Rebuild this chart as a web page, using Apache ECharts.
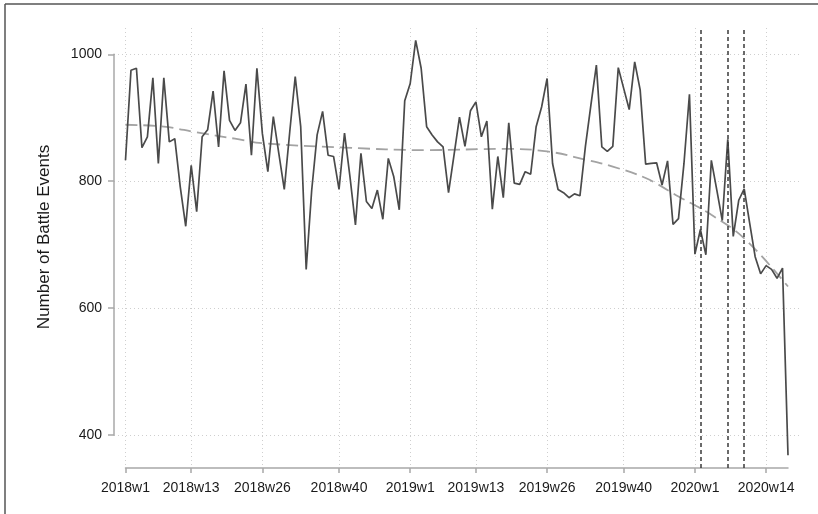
<!DOCTYPE html>
<html>
<head>
    <meta charset="UTF-8">
    <script type="text/javascript" src="https://cdn.jsdelivr.net/npm/echarts@6/dist/echarts.min.js"></script>
    <style type="text/css">
        *{
            margin: 0;
            padding: 0;
        }
        body{
            background: #fff;
        }
        #main{
            width: 818px;
            height: 514px;
        }
    </style>
</head>
<body>
<div id="main"></div>
<script type="text/javascript">

    // weeks per year shown: 2018 (52), 2019 (52), 2020 up to w18
    var years = [2018, 2019, 2020];
    var weeksPerYear = [52, 52, 18];

    // weekly battle events, 2018w1 .. 2020w18
    var battleEvents = [
        833, 975, 978, 853, 870, 963, 828, 963, 862, 867,
        791, 729, 825, 752, 870, 881, 942, 854, 974, 896,
        880, 892, 953, 841, 978, 875, 815, 902, 844, 787,
        878, 965, 886, 661, 785, 873, 910, 841, 839, 787,
        876, 807, 731, 844, 768, 757, 786, 740, 836, 807,
        755, 927, 954, 1022, 978, 886, 873, 862, 854, 782,
        841, 901, 855, 911, 925, 870, 895, 756, 839, 774,
        892, 797, 795, 815, 811, 886, 917, 962, 828, 787,
        782, 774, 780, 777, 855, 920, 983, 854, 847, 855,
        979, 946, 913, 988, 944, 827, 828, 829, 794, 832,
        732, 741, 828, 937, 685, 724, 684, 833, 786, 738,
        866, 713, 770, 788, 734, 681, 654, 667, 661, 647,
        663, 368
    ];

    // smoothed trend, read at a few weeks
    var trendWeeks = ['2018w1', '2018w8', '2018w14', '2018w21', '2018w26', '2018w41',
        '2019w4', '2019w18', '2019w26', '2019w33', '2019w38', '2019w44', '2019w50',
        '2020w4', '2020w10', '2020w18'];
    var trendValues = [889, 886, 877, 867, 860, 853,
        849, 851, 847, 834, 823, 805, 776,
        747, 710, 634];

    var tickLabels = ['2018w1', '2018w13', '2018w26', '2018w40', '2019w1',
        '2019w13', '2019w26', '2019w40', '2020w1', '2020w14'];
    var eventWeeks = ['2020w2', '2020w7', '2020w10'];

    var weeks = [];
    for (var y = 0; y < years.length; y++) {
        for (var w = 1; w <= weeksPerYear[y]; w++) {
            weeks.push(years[y] + 'w' + w);
        }
    }

    var trendData = trendWeeks.map(function (wk, i) {
        return [wk, trendValues[i]];
    });

    function isTick(index, value) {
        return tickLabels.indexOf(value) >= 0;
    }

    var axisGray = '#a8a8a8';
    var gridStyle = {color: '#cfcfcf', type: [1, 3], width: 1};

    var myChart = echarts.init(document.getElementById('main'), null, {renderer: 'canvas'});
    var option = {
        animation: false,
        backgroundColor: '#fff',
        textStyle: {fontFamily: 'Liberation Sans, Arial, sans-serif'},
        grid: [
            {left: 125.5, right: 30, top: 28, height: 440, outerBoundsMode: 'none'},
            {left: 114, right: 18, top: 54.3, height: 380.7, outerBoundsMode: 'none'}
        ],
        xAxis: [
            {
                gridIndex: 0,
                type: 'category',
                data: weeks,
                boundaryGap: false,
                axisLine: {lineStyle: {color: axisGray, width: 1.5}},
                axisTick: {interval: isTick, length: 5, lineStyle: {color: axisGray, width: 1.5}},
                axisLabel: {interval: isTick, color: '#1a1a1a', fontSize: 14, margin: 13},
                splitLine: {show: true, interval: isTick, lineStyle: gridStyle}
            },
            {
                gridIndex: 1,
                type: 'value',
                show: false
            }
        ],
        yAxis: [
            {
                gridIndex: 0,
                type: 'value',
                min: 348,
                max: 1041.5,
                show: false,
                splitLine: {show: false}
            },
            {
                gridIndex: 1,
                type: 'value',
                min: 400,
                max: 1000,
                interval: 200,
                axisLine: {show: true, lineStyle: {color: axisGray, width: 1.5}},
                axisTick: {show: true, length: 6, lineStyle: {color: axisGray, width: 1.5}},
                axisLabel: {
                    color: '#1a1a1a',
                    fontSize: 14,
                    margin: 12,
                    formatter: function (v) { return String(v); }
                },
                splitLine: {show: true, lineStyle: gridStyle}
            }
        ],
        graphic: [
            {
                type: 'text',
                x: 44,
                y: 237,
                rotation: Math.PI / 2,
                style: {
                    text: 'Number of Battle Events',
                    font: '17px "Liberation Sans", Arial, sans-serif',
                    fill: '#1a1a1a',
                    textAlign: 'center',
                    textVerticalAlign: 'middle'
                }
            },
            {
                type: 'line',
                shape: {x1: 5, y1: 4, x2: 818, y2: 4},
                style: {stroke: '#555', lineWidth: 1.5}
            },
            {
                type: 'line',
                shape: {x1: 5, y1: 4, x2: 5, y2: 514},
                style: {stroke: '#555', lineWidth: 1.5}
            }
        ],
        series: [
            {
                name: 'Trend',
                type: 'line',
                xAxisIndex: 0,
                yAxisIndex: 0,
                data: trendData,
                smooth: 0.4,
                showSymbol: false,
                silent: true,
                lineStyle: {color: '#a3a3a3', width: 1.8, type: [12, 6]},
                z: 3
            },
            {
                name: 'Battle events',
                type: 'line',
                xAxisIndex: 0,
                yAxisIndex: 0,
                data: battleEvents,
                showSymbol: false,
                lineStyle: {color: '#4a4a4a', width: 1.7},
                z: 4,
                markLine: {
                    silent: true,
                    symbol: 'none',
                    label: {show: false},
                    lineStyle: {color: '#3a3a3a', type: [4, 3], width: 1.5},
                    data: eventWeeks.map(function (wk) {
                        return {xAxis: wk};
                    })
                }
            }
        ]
    };
    myChart.setOption(option);

</script>
</body>
</html>
